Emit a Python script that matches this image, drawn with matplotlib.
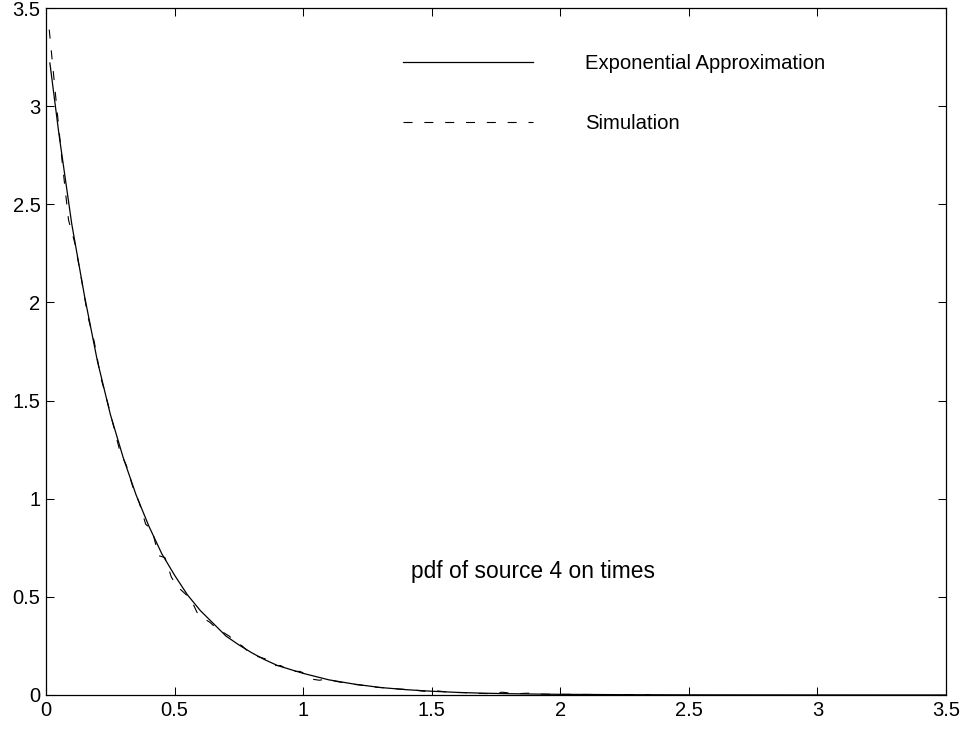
import matplotlib
matplotlib.use("Agg")
import matplotlib.pyplot as plt

plt.rcParams['font.family'] = ['Liberation Sans', 'DejaVu Sans']
plt.rcParams['lines.scale_dashes'] = False

# exponential approximation of the on-time pdf
exp_x = [0.015, 0.05, 0.10, 0.15, 0.20, 0.25, 0.30, 0.35, 0.40, 0.45,
         0.50, 0.55, 0.60, 0.65, 0.70, 0.75, 0.80, 0.85, 0.90, 0.95,
         1.00, 1.10, 1.20, 1.30, 1.40, 1.50, 1.60, 1.70, 1.80, 1.90,
         2.00, 2.25, 2.50, 2.75, 3.00, 3.25, 3.50]
exp_y = [3.22, 2.86, 2.40, 2.03, 1.70, 1.43, 1.21, 1.02, 0.86, 0.72,
         0.61, 0.51, 0.43, 0.365, 0.30, 0.255, 0.215, 0.18, 0.15, 0.13,
         0.11, 0.077, 0.055, 0.038, 0.027, 0.019, 0.013, 0.009, 0.0065, 0.0046,
         0.0032, 0.0014, 0.0006, 0.0003, 0.0001, 0.0, 0.0]

# simulated histogram density
sim_x = [0.0125, 0.0375, 0.0625, 0.0875, 0.1125, 0.1375, 0.1625, 0.1875,
         0.2125, 0.2375, 0.2625, 0.2875, 0.3125, 0.3375, 0.3625, 0.3875,
         0.4125, 0.4375, 0.4625, 0.4875, 0.5125, 0.5375, 0.5625, 0.5875,
         0.6125, 0.6375, 0.6625, 0.6875, 0.7125, 0.7375, 0.7625, 0.7875,
         0.8125, 0.8375, 0.8625, 0.8875, 0.9125, 0.9375, 0.9625, 0.9875,
         1.0125, 1.0375, 1.0625, 1.0875, 1.125, 1.175, 1.225, 1.275,
         1.325, 1.375, 1.425, 1.475, 1.525, 1.575, 1.625, 1.675,
         1.725, 1.775, 1.825, 1.875, 1.925, 1.975, 2.05, 2.15, 2.25, 2.35]
sim_y = [3.39, 3.05, 2.72, 2.42, 2.30, 2.12, 1.93, 1.80,
         1.62, 1.50, 1.37, 1.24, 1.17, 1.06, 0.98, 0.87,
         0.84, 0.71, 0.70, 0.60, 0.55, 0.52, 0.49, 0.42,
         0.39, 0.37, 0.34, 0.32, 0.30, 0.27, 0.25, 0.22,
         0.20, 0.19, 0.18, 0.15, 0.15, 0.13, 0.12, 0.12,
         0.105, 0.08, 0.075, 0.08, 0.07, 0.058, 0.05, 0.04,
         0.036, 0.03, 0.026, 0.018, 0.02, 0.013, 0.012, 0.008,
         0.007, 0.014, 0.006, 0.009, 0.004, 0.003, 0.003, 0.002, 0.002, 0.001]

ticks = [0, 0.5, 1, 1.5, 2, 2.5, 3, 3.5]
tick_labels = ['0', '0.5', '1', '1.5', '2', '2.5', '3', '3.5']

fig = plt.figure(figsize=(9.67, 7.30), dpi=100)
ax = fig.add_axes([0.0476, 0.048, 0.9307, 0.941])

ax.plot(exp_x, exp_y, color='black', lw=0.9, label='Exponential Approximation')
ax.plot(sim_x, sim_y, color='black', lw=0.8, dashes=(6.5, 8.5), label='Simulation')

ax.set_xlim(0, 3.5)
ax.set_ylim(0, 3.5)
ax.set_xticks(ticks)
ax.set_xticklabels(tick_labels)
ax.set_yticks(ticks)
ax.set_yticklabels(tick_labels)
ax.tick_params(direction='in', length=6, width=0.75, top=True, right=True,
               labelsize=14.5, pad=4)
for s in ax.spines.values():
    s.set_linewidth(0.9)

leg = ax.legend(loc='upper left', bbox_to_anchor=(0.376, 0.960), frameon=False,
                fontsize=14.6, handlelength=6.45, handletextpad=2.56,
                labelspacing=2.05)

ax.text(1.42, 0.63, 'pdf of source 4 on times', fontsize=16.4, va='center', ha='left')

fig.savefig('out.png', dpi=100)
